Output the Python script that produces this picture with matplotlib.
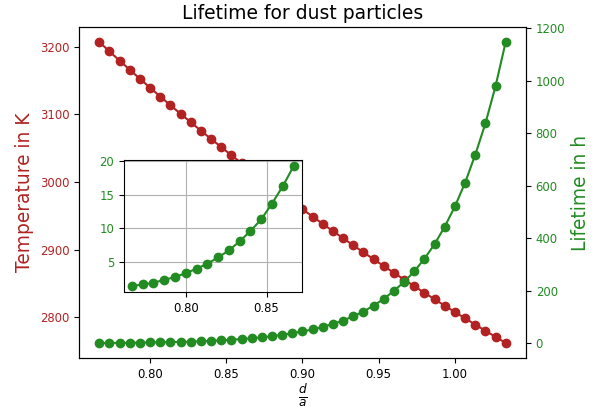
import matplotlib
matplotlib.use("Agg")
import matplotlib.pyplot as plt

# d/a values (41 points, step 1/150)
ratio = [0.7667, 0.7733, 0.7800, 0.7867, 0.7933, 0.8000, 0.8067, 0.8133,
         0.8200, 0.8267, 0.8333, 0.8400, 0.8467, 0.8533, 0.8600, 0.8667,
         0.8733, 0.8800, 0.8867, 0.8933, 0.9000, 0.9067, 0.9133, 0.9200,
         0.9267, 0.9333, 0.9400, 0.9467, 0.9533, 0.9600, 0.9667, 0.9733,
         0.9800, 0.9867, 0.9933, 1.0000, 1.0067, 1.0133, 1.0200, 1.0267,
         1.0333]

# temperature in K
temperature = [3206.9, 3193.1, 3179.4, 3165.9, 3152.6, 3139.4, 3126.4, 3113.6,
               3100.9, 3088.4, 3076.0, 3063.8, 3051.7, 3039.7, 3028.0, 3016.3,
               3004.7, 2993.3, 2982.1, 2970.9, 2959.9, 2949.0, 2938.2, 2927.5,
               2917.0, 2906.6, 2896.2, 2886.0, 2875.9, 2865.9, 2856.0, 2846.2,
               2836.5, 2826.9, 2817.4, 2808.0, 2798.7, 2789.5, 2780.3, 2771.3,
               2762.3]

# lifetime in h
lifetime = [1.44, 1.68, 1.93, 2.38, 2.77, 3.37, 4.01, 4.75,
            5.69, 6.73, 8.07, 9.60, 11.34, 13.66, 16.24, 19.21,
            22.8, 27.0, 32.2, 38.5, 45.5, 53.0, 63.0, 74.0,
            87.0, 103.0, 121.0, 144.0, 169.0, 200.0, 234.0, 274.0,
            322.0, 378.0, 444.0, 521.0, 612.0, 717.0, 837.0, 980.0,
            1147.0]

n_inset = 16  # points shown in the zoomed inset

red = "#b22222"
green = "#228b22"
tick_fs = 8.4
label_fs = 13.4

fig = plt.figure(figsize=(5.95, 4.12), dpi=100)
ax1 = fig.add_subplot(111)
fig.subplots_adjust(left=0.1328, right=0.884, top=0.9345, bottom=0.131)

ax1.plot(ratio, temperature, "o-", color=red)
ax1.set_ylabel("Temperature in K", color=red, fontsize=label_fs)
ax1.set_xlabel(r"$\frac{d}{a}$", fontsize=12.5, labelpad=1.5)
ax1.tick_params(axis="y", labelcolor=red, labelsize=tick_fs)
ax1.tick_params(axis="x", labelsize=tick_fs)
ax1.set_title("Lifetime for dust particles", fontsize=13.5)

ax2 = ax1.twinx()
ax2.plot(ratio, lifetime, "o-", color=green)
ax2.set_ylabel("Lifetime in h", color=green, fontsize=label_fs)
ax2.tick_params(axis="y", labelcolor=green, labelsize=tick_fs)

# inset with the first points
ax3 = fig.add_axes([0.208, 0.291, 0.299, 0.320])
ax3.plot(ratio[:n_inset], lifetime[:n_inset], "o-", color=green)
ax3.set_xticks([0.80, 0.85])
ax3.set_yticks([5, 10, 15, 20])
ax3.tick_params(axis="y", labelcolor=green, labelsize=tick_fs)
ax3.tick_params(axis="x", labelsize=tick_fs)
ax3.grid(True)

fig.savefig("out.png", dpi=100)
